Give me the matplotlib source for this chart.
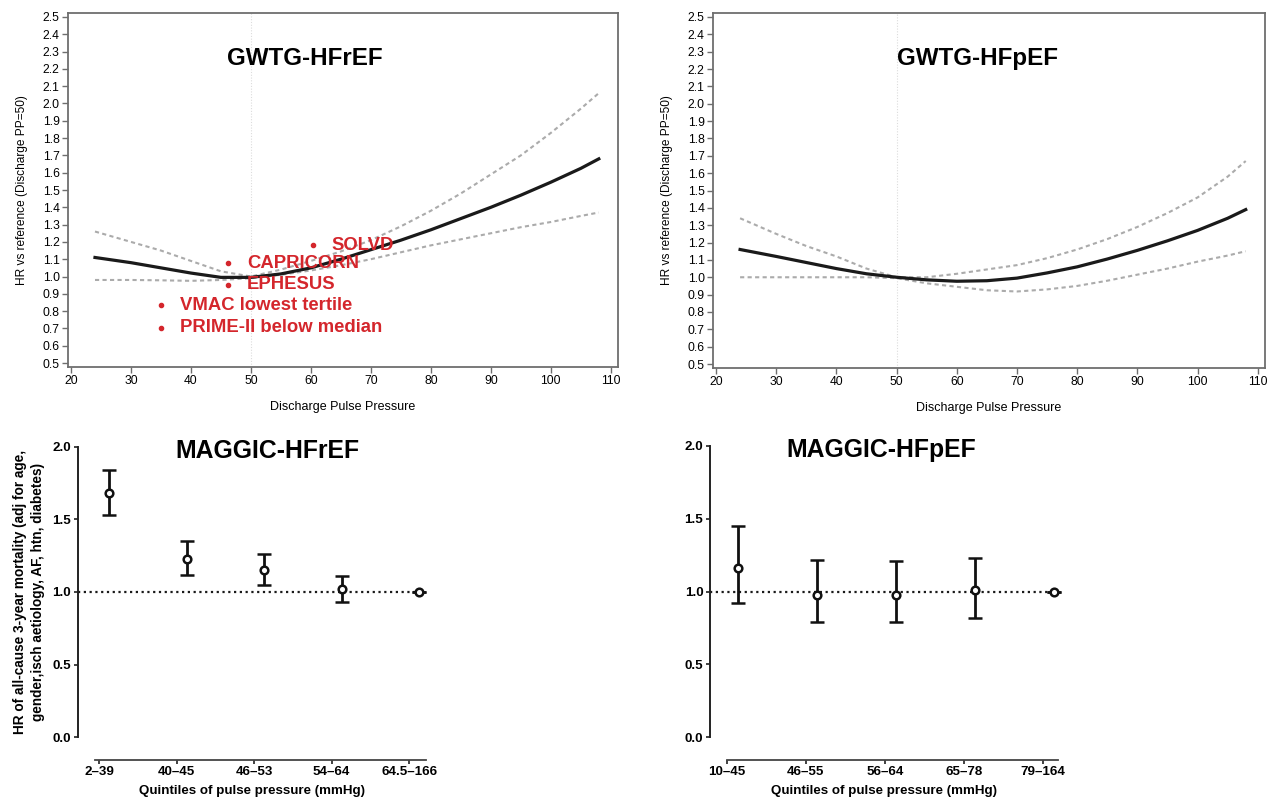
#!/usr/bin/env python3
"""
Pulse pressure and mortality: GWTG spline curves (top) and MAGGIC quintile HRs (bottom).
"""

import matplotlib
matplotlib.use("Agg")
import matplotlib.pyplot as plt

plt.rcParams['font.family'] = ['Liberation Sans', 'DejaVu Sans']

W, H = 1278, 798

# GWTG spline fits, HR vs reference (discharge PP = 50)
pp_grid = [24, 30, 35, 40, 45, 50, 55, 60, 65, 70, 75, 80, 85, 90, 95, 100, 105, 108]
hfref_hr = [1.11, 1.08, 1.05, 1.02, 0.995, 0.995, 1.015, 1.05, 1.10, 1.155, 1.21,
            1.27, 1.335, 1.40, 1.47, 1.545, 1.625, 1.68]
hfref_upper = [1.26, 1.20, 1.15, 1.09, 1.03, 1.0, 1.04, 1.09, 1.145, 1.21, 1.29,
               1.38, 1.48, 1.59, 1.70, 1.83, 1.97, 2.06]
hfref_lower = [0.98, 0.98, 0.978, 0.975, 0.98, 0.99, 1.01, 1.035, 1.065, 1.10, 1.14,
               1.18, 1.215, 1.25, 1.285, 1.315, 1.35, 1.37]
hfpef_hr = [1.16, 1.12, 1.085, 1.05, 1.02, 1.0, 0.985, 0.977, 0.98, 0.995, 1.025,
            1.06, 1.105, 1.155, 1.21, 1.27, 1.34, 1.39]
hfpef_upper = [1.34, 1.25, 1.18, 1.12, 1.05, 1.0, 1.0, 1.02, 1.045, 1.07, 1.11,
               1.16, 1.22, 1.29, 1.37, 1.46, 1.58, 1.67]
hfpef_lower = [1.0, 1.0, 1.0, 1.0, 1.0, 0.995, 0.965, 0.945, 0.925, 0.918, 0.93,
               0.95, 0.98, 1.015, 1.05, 1.09, 1.125, 1.15]

# Trial markers on the HFrEF panel
trial_names = ['SOLVD', 'CAPRICORN', 'EPHESUS', 'VMAC lowest tertile', 'PRIME-II below median']
trial_pp = [60.3, 46.2, 46.2, 35.0, 35.0]
trial_hr = [1.182, 1.076, 0.951, 0.835, 0.704]

# MAGGIC quintiles
hfref_quintiles = ['2\u201339', '40\u201345', '46\u201353', '54\u201364', '64.5\u2013166']
hfref_q_hr = [1.68, 1.23, 1.15, 1.02, 1.0]
hfref_q_lo = [1.53, 1.12, 1.05, 0.93, 1.0]
hfref_q_hi = [1.84, 1.35, 1.26, 1.11, 1.0]

hfpef_quintiles = ['10\u201345', '46\u201355', '56\u201364', '65\u201378', '79\u2013164']
hfpef_q_hr = [1.16, 0.98, 0.98, 1.01, 1.0]
hfpef_q_lo = [0.92, 0.79, 0.79, 0.82, 1.0]
hfpef_q_hi = [1.45, 1.22, 1.21, 1.23, 1.0]

spline_yticks = [round(0.5 + 0.1 * i, 1) for i in range(21)]
spline_xticks = [20, 30, 40, 50, 60, 70, 80, 90, 100, 110]
maggic_yticks = [0.0, 0.5, 1.0, 1.5, 2.0]

RED = '#d4262c'
SPINE = '#6e6e6e'


def px_axes(fig, x0, y0, x1, y1):
    """Add axes from pixel box (top-left origin)."""
    return fig.add_axes([x0 / W, 1 - y1 / H, (x1 - x0) / W, (y1 - y0) / H])


def spline_panel(ax, hr, upper, lower, title, title_x):
    ax.axvline(50, color='#dcdcdc', lw=0.8, ls=(0, (1, 1.5)), zorder=0)
    ax.plot(pp_grid, upper, color='#ababab', lw=1.5, ls=(0, (2, 1.6)))
    ax.plot(pp_grid, lower, color='#ababab', lw=1.5, ls=(0, (2, 1.6)))
    ax.plot(pp_grid, hr, color='#1a1a1a', lw=2.3)
    ax.set_xlim(19.5, 111.2)
    ax.set_ylim(0.477, 2.523)
    ax.set_xticks(spline_xticks)
    ax.set_yticks(spline_yticks)
    ax.set_yticklabels([f'{v:.1f}' for v in spline_yticks])
    ax.tick_params(direction='out', length=4, width=1, color=SPINE,
                   labelsize=8.7, pad=2)
    for s in ax.spines.values():
        s.set_color(SPINE)
        s.set_linewidth(1.3)
    ax.set_xlabel('Discharge Pulse Pressure', fontsize=9, labelpad=10)
    ax.set_ylabel('HR vs reference (Discharge PP=50)', fontsize=8.6, labelpad=10.5)
    ax.text(title_x, 2.26, title, fontsize=17.4, fontweight='bold', ha='center', va='center')


def quintile_panel(ax, labels, hr, lo, hi, title, title_x, offset, xmin, ylabel):
    pos = list(range(len(labels)))
    pts = [p + offset for p in pos]
    yerr = [[h - l for h, l in zip(hr, lo)], [u - h for h, u in zip(hr, hi)]]
    ax.plot([xmin, pts[-1]], [1.0, 1.0], color='#1a1a1a',
            lw=1.6, ls=(0, (1, 1.6)), zorder=1)
    ax.errorbar(pts, hr, yerr=yerr, fmt='o', color='#111111', ecolor='#111111',
                elinewidth=2, capsize=5, capthick=2, markersize=5.5,
                markerfacecolor='white', markeredgewidth=1.8, clip_on=False, zorder=3)
    ax.set_ylim(0, 2.0)
    ax.set_yticks(maggic_yticks)
    ax.set_yticklabels([f'{v:.1f}' for v in maggic_yticks])
    ax.set_xticks(pos)
    ax.set_xticklabels(labels)
    for s in ['top', 'right']:
        ax.spines[s].set_visible(False)
    ax.spines['left'].set_linewidth(1.4)
    ax.spines['left'].set_color('#222222')
    ax.spines['bottom'].set_linewidth(1.3)
    ax.spines['bottom'].set_color('#444444')
    ax.spines['bottom'].set_position(('outward', 16))
    ax.tick_params(direction='out', length=3, width=1.3, labelsize=9.6, pad=2,
                   color='#333333')
    for lab in ax.get_xticklabels() + ax.get_yticklabels():
        lab.set_fontweight('bold')
    ax.set_xlabel('Quintiles of pulse pressure (mmHg)', fontsize=9.6,
                  fontweight='bold', labelpad=5)
    if ylabel:
        ax.set_ylabel(ylabel, fontsize=9.8, fontweight='bold', labelpad=5,
                      linespacing=1.35)
    ax.text(title_x, 1.97, title, fontsize=17.8, fontweight='bold',
            ha='center', va='center')


def main():
    fig = plt.figure(figsize=(W / 100, H / 100), dpi=100)

    # GWTG-HFrEF
    ax1 = px_axes(fig, 68, 13, 618, 367)
    spline_panel(ax1, hfref_hr, hfref_upper, hfref_lower, 'GWTG-HFrEF', 59.0)
    ax1.plot(trial_pp, trial_hr, 'o', color=RED, markersize=3, ls='none')
    for name, x, y in zip(trial_names, trial_pp, trial_hr):
        ax1.annotate(name, (x, y), xytext=(13.5, 0), textcoords='offset points',
                     color=RED, fontsize=13.3, fontweight='bold', va='center')

    # GWTG-HFpEF
    ax2 = px_axes(fig, 713, 13, 1265, 368)
    spline_panel(ax2, hfpef_hr, hfpef_upper, hfpef_lower, 'GWTG-HFpEF', 63.5)

    # MAGGIC-HFrEF: x ticks at 99.2 px, 77.5 px per quintile
    ax3 = px_axes(fig, 77.6, 446.7, 425.7, 737.3)
    ax3.set_xlim(-0.279, 4.213)
    ax3.spines['bottom'].set_bounds(-0.054, 4.213)
    quintile_panel(ax3, hfref_quintiles, hfref_q_hr, hfref_q_lo, hfref_q_hi,
                   'MAGGIC-HFrEF', 2.17, 0.13, -0.279,
                   'HR of all-cause 3-year mortality (adj for age,\n'
                   'gender,isch aetiology, AF, htn, diabetes)')

    # MAGGIC-HFpEF: x ticks at 726.9 px, 79 px per quintile
    ax4 = px_axes(fig, 710.2, 446.0, 1057.6, 737.3)
    ax4.set_xlim(-0.211, 4.186)
    ax4.spines['bottom'].set_bounds(0.0, 4.186)
    quintile_panel(ax4, hfpef_quintiles, hfpef_q_hr, hfpef_q_lo, hfpef_q_hi,
                   'MAGGIC-HFpEF', 1.95, 0.145, -0.211, None)

    fig.savefig('out.png', dpi=100)
    plt.close(fig)


if __name__ == "__main__":
    main()
